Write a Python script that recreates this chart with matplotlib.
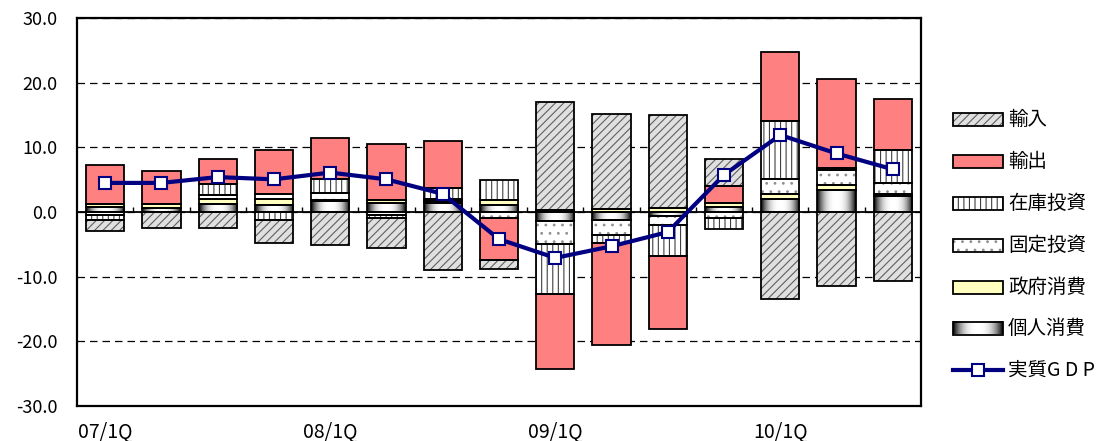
import numpy as np
import matplotlib
matplotlib.use('Agg')
import matplotlib.pyplot as plt
from matplotlib.patches import Rectangle
from matplotlib.lines import Line2D

plt.rcParams['font.family'] = ['Noto Sans CJK JP', 'DejaVu Sans']
plt.rcParams['hatch.linewidth'] = 0.8

# 実質GDP成長率（前期比年率）と需要項目別寄与度
quarters = ['07/1Q', '07/2Q', '07/3Q', '07/4Q',
            '08/1Q', '08/2Q', '08/3Q', '08/4Q',
            '09/1Q', '09/2Q', '09/3Q', '09/4Q',
            '10/1Q', '10/2Q', '10/3Q']
kojin    = [0.8, 0.65, 1.2, 1.15, 1.7, 1.45, 1.45, 1.15, -1.45, -1.2, -0.65, 0.85, 1.95, 3.4, 2.55]
seifu    = [0.5, 0.65, 0.75, 0.85, 0.1, 0.4, 0.2, 0.75, 0.25, 0.4, 0.65, 0.6, 0.8, 0.8, 0.3]
kotei    = [-0.5, 0.0, 0.7, 0.8, 1.15, -0.4, 0.4, -1.0, -3.45, -2.4, -1.35, -1.0, 2.35, 2.3, 1.65]
zaiko    = [-0.7, 0.0, 1.75, -1.2, 2.2, -0.5, 1.7, 3.05, -7.75, -1.15, -4.85, -1.6, 9.0, 0.3, 5.05]
yushutsu = [5.9, 5.0, 3.75, 6.75, 6.35, 8.6, 7.2, -6.45, -11.6, -15.75, -11.25, 2.6, 10.6, 13.8, 7.85]
yunyu    = [-1.8, -2.45, -2.4, -3.6, -5.1, -4.7, -8.9, -1.3, 16.7, 14.75, 14.35, 4.15, -13.5, -11.45, -10.6]
gdp      = [4.5, 4.5, 5.4, 5.05, 6.1, 5.05, 2.8, -4.2, -7.1, -5.3, -3.1, 5.75, 11.9, 9.05, 6.6]

series = [('個人消費', kojin), ('政府消費', seifu), ('固定投資', kotei),
          ('在庫投資', zaiko), ('輸出', yushutsu), ('輸入', yunyu)]

# face colour, hatch, hatch colour
fills = {
    '政府消費': ('#FFFFC0', None, '#FFFFC0'),
    '固定投資': ('white', '..', '#909090'),
    '在庫投資': ('white', '|||', '#404040'),
    '輸出': ('#FF8080', None, '#FF8080'),
    '輸入': ('#E0E0E0', '////', '#606060'),
}

# horizontal shading for 個人消費: dark edges, white centre
grad = (1 - np.abs(np.linspace(-1, 1, 101)) ** 2.6)[np.newaxis, :]

fig = plt.figure(figsize=(11, 4.41), dpi=100)
ax = fig.add_axes([77 / 1100, 1 - 406 / 441, (921 - 77) / 1100, (406 - 18) / 441])

x = np.arange(len(quarters))
width = 0.68
pos_base = np.zeros(len(x))
neg_base = np.zeros(len(x))
for name, vals in series:
    vals = np.array(vals)
    base = np.where(vals >= 0, pos_base, neg_base)
    if name == '個人消費':
        for xi, b, v in zip(x, base, vals):
            ax.imshow(grad, cmap='gray', vmin=0, vmax=1, aspect='auto',
                      interpolation='bilinear', zorder=2,
                      extent=(xi - width / 2, xi + width / 2, b, b + v))
    else:
        face, hatch, hcol = fills[name]
        ax.bar(x, vals, width, bottom=base, color=face, hatch=hatch,
               edgecolor=hcol, linewidth=0, zorder=2)
    ax.bar(x, vals, width, bottom=base, fill=False, edgecolor='black',
           linewidth=1.3, zorder=3)
    pos_base += np.where(vals >= 0, vals, 0)
    neg_base += np.where(vals < 0, vals, 0)

ax.axhline(0, color='black', lw=1.3, zorder=3.5)
ax.vlines(np.arange(0.5, len(x) - 1), 0, 0.7, color='black', lw=1, zorder=3.5)

ax.plot(x, gdp, color='#000080', lw=3, marker='s', ms=8.5, mfc='white',
        mec='#000080', mew=1.5, zorder=5)

ax.set_xlim(-0.5, len(x) - 0.5)
ax.set_ylim(-30, 30)
ax.set_yticks(np.arange(-30, 31, 10))
ax.set_yticklabels([f'{v:.1f}' for v in np.arange(-30, 31, 10)], fontsize=13)
first_q = [i for i, q in enumerate(quarters) if q.endswith('1Q')]
ax.set_xticks(first_q)
ax.set_xticklabels([quarters[i] for i in first_q], fontsize=14)
ax.tick_params(axis='y', length=0, pad=14)
ax.tick_params(axis='x', length=0, pad=11)
ax.grid(axis='y', color='black', lw=0.9, dashes=(6, 4), zorder=1)
for s in ax.spines.values():
    s.set_linewidth(1.6)

# legend drawn in pixel coordinates
lax = fig.add_axes([0, 0, 1, 1])
legend_items = ['輸入', '輸出', '在庫投資', '固定投資', '政府消費', '個人消費']
y_centres = [119, 161, 203, 245, 287, 328, 370]
px0, px1, ph = 953, 1003, 13
for name, yc in zip(legend_items, y_centres):
    if name == '個人消費':
        lax.imshow(grad, cmap='gray', vmin=0, vmax=1, aspect='auto',
                   interpolation='bilinear',
                   extent=(px0, px1, yc + ph / 2, yc - ph / 2))
    else:
        face, hatch, hcol = fills[name]
        lax.add_patch(Rectangle((px0, yc - ph / 2), px1 - px0, ph, facecolor=face,
                                hatch=hatch, edgecolor=hcol, linewidth=0))
    lax.add_patch(Rectangle((px0, yc - ph / 2), px1 - px0, ph, fill=False,
                            edgecolor='black', linewidth=1.3))
    lax.text(px1 + 5, yc, name, fontsize=14, va='center', ha='left')
lax.add_line(Line2D([px0, px1], [y_centres[-1]] * 2, color='#000080', lw=3))
lax.add_line(Line2D([(px0 + px1) / 2], [y_centres[-1]], marker='s', ms=8.5,
                    mfc='white', mec='#000080', mew=1.5))
lax.text(px1 + 5, y_centres[-1], '実質G D P', fontsize=14, va='center', ha='left')
lax.set_xlim(0, 1100)
lax.set_ylim(441, 0)
lax.axis('off')

fig.savefig('out.png', dpi=100)
